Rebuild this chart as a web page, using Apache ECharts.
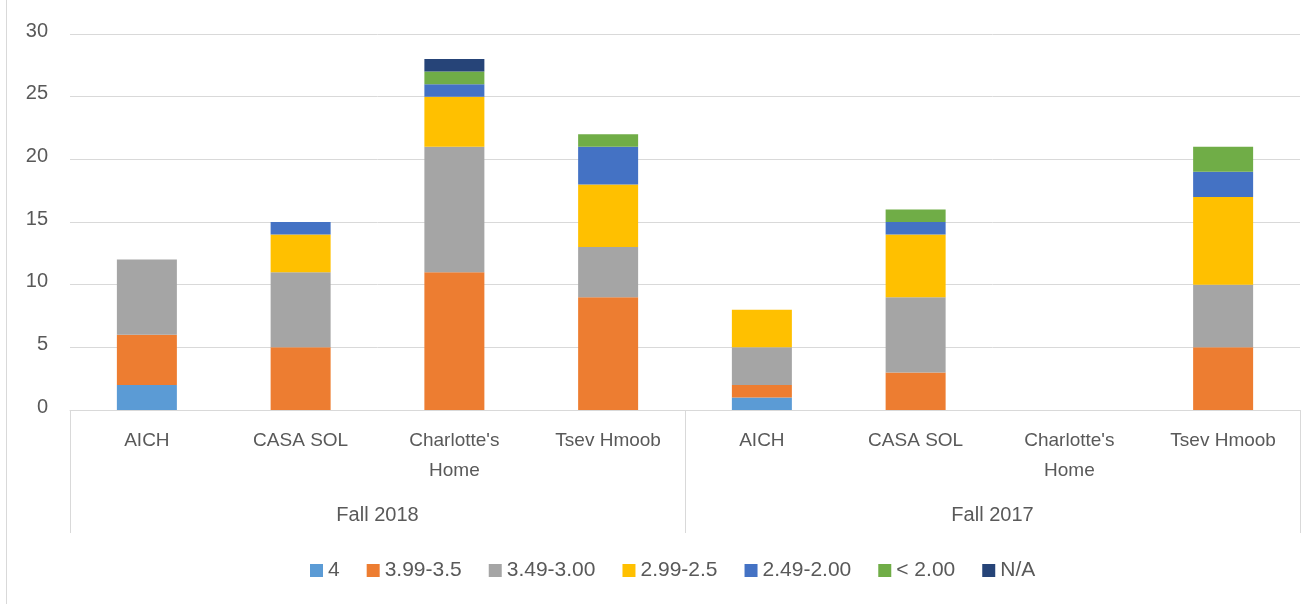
<!DOCTYPE html>
<html><head><meta charset="utf-8">
<script src="https://cdn.jsdelivr.net/npm/echarts@6/dist/echarts.min.js"></script>
<style>html,body{margin:0;padding:0;background:#fff}#c{width:1306px;height:604px}</style>
</head><body><div id="c"></div>
<script>
const categories = ["AICH", "CASA SOL", "Charlotte's\nHome", "Tsev Hmoob", "AICH", "CASA SOL", "Charlotte's\nHome", "Tsev Hmoob"];
const groups = ["Fall 2018", "Fall 2017"];
const seriesNames = ["4", "3.99-3.5", "3.49-3.00", "2.99-2.5", "2.49-2.00", "< 2.00", "N/A"];
const s4      = [2, 0, 0, 0, 1, 0, 0, 0];
const s399    = [4, 5, 11, 9, 1, 3, 0, 5];
const s349    = [6, 6, 10, 4, 3, 6, 0, 5];
const s299    = [0, 3, 4, 5, 3, 5, 0, 7];
const s249    = [0, 1, 1, 3, 0, 1, 0, 2];
const sLt2    = [0, 0, 1, 1, 0, 1, 0, 2];
const sNA     = [0, 0, 1, 0, 0, 0, 0, 0];
const yTicks = [0, 5, 10, 15, 20, 25, 30];
const colors = ["#5B9BD5", "#ED7D31", "#A5A5A5", "#FFC000", "#4472C4", "#70AD47", "#264478"];
const values = [s4, s399, s349, s299, s249, sLt2, sNA];

const font = "Liberation Sans";
const chart = echarts.init(document.getElementById('c'));
chart.setOption({
  animation: false,
  color: colors,
  textStyle: {fontFamily: font},
  grid: {left: 70, right: 6, top: 34, bottom: 194, containLabel: false},
  legend: {
    top: 555, left: 305, itemWidth: 13, itemHeight: 13, itemGap: 27,
    icon: 'rect',
    textStyle: {fontFamily: font, fontSize: 21, color: '#595959'},
    data: seriesNames
  },
  xAxis: [{
    type: 'category', data: categories, position: 'bottom',
    axisLine: {show: true, lineStyle: {color: '#d9d9d9'}},
    axisTick: {show: false},
    axisLabel: {fontFamily: font, fontSize: 19, color: '#595959', margin: 16, lineHeight: 30, interval: 0}
  }, {
    type: 'category', data: groups, position: 'bottom',
    axisLine: {show: false},
    axisTick: {show: true, length: 123, lineStyle: {color: '#d9d9d9'}},
    axisLabel: {fontFamily: font, fontSize: 20, color: '#595959', margin: 95}
  }],
  yAxis: {
    type: 'value', min: yTicks[0], max: yTicks[yTicks.length - 1], interval: 5,
    axisLine: {show: false}, axisTick: {show: false},
    axisLabel: {fontFamily: font, fontSize: 20, color: '#595959', margin: 22, verticalAlign: 'bottom', padding: [0, 0, -7, 0]},
    splitLine: {lineStyle: {color: '#d9d9d9'}}
  },
  graphic: [{
    type: 'line', shape: {x1: 6.5, y1: 0, x2: 6.5, y2: 604},
    style: {stroke: '#d9d9d9', lineWidth: 1}, silent: true
  }],
  series: seriesNames.map((n, i) => ({
    name: n, type: 'bar', stack: 'total', barWidth: 60, xAxisIndex: 0,
    data: values[i].map(v => v === 0 ? null : v),
    itemStyle: {color: colors[i]}
  }))
});
</script></body></html>
